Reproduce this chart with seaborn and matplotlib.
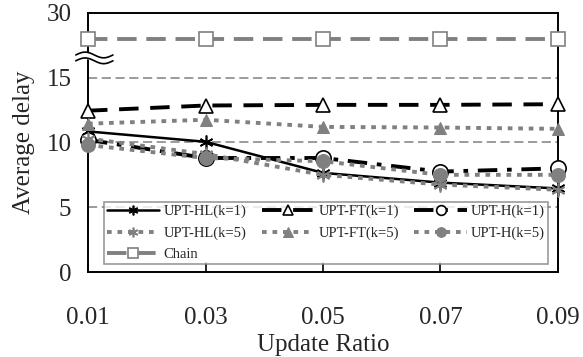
import numpy as np
import pandas as pd
import matplotlib
matplotlib.use("Agg")
import matplotlib.pyplot as plt
import seaborn as sns

# ── data ─────────────────────────────────────────────────────────────────────
update_ratio = [0.01, 0.03, 0.05, 0.07, 0.09]
upt_hl_k1 = [10.85, 10.05, 7.65, 6.9, 6.45]
upt_ft_k1 = [12.45, 12.85, 12.9, 12.9, 12.95]
upt_h_k1 = [10.2, 8.8, 8.8, 7.75, 8.0]
upt_hl_k5 = [10.3, 9.1, 7.5, 6.75, 6.35]
upt_ft_k5 = [11.45, 11.75, 11.2, 11.15, 11.05]
upt_h_k5 = [9.8, 8.8, 8.55, 7.5, 7.5]
chain = [28, 28, 28, 28, 28]

y_ticks = [0, 5, 10, 15, 30]


def broken(v):
    # y axis is cut between 15 and 25
    return v if v <= 15 else v - 10


sns.set_theme(style="white")
plt.rcParams["font.family"] = ["Liberation Serif", "DejaVu Serif"]

fig = plt.figure(figsize=(5.83, 3.57), dpi=100)
ax = fig.add_axes([0.151, 0.238, 0.806, 0.726])

BLACK = "#000000"
GRAY = "#808080"
star = (6, 2, 0)

series = [
    ("UPT-HL(k=1)", upt_hl_k1, dict(color=BLACK, lw=1.8, linestyle="-", marker=star,
                                   ms=10, mec=BLACK, mew=1.2)),
    ("UPT-FT(k=1)", upt_ft_k1, dict(color=BLACK, lw=2.8, linestyle=(0, (5, 3)),
                                   marker="^", ms=10, mfc="white", mec=BLACK, mew=1.2)),
    ("UPT-H(k=1)", upt_h_k1, dict(color=BLACK, lw=2.8, linestyle=(0, (5, 2.5, 1.2, 2.5)),
                                 marker="o", ms=11, mfc="white", mec=BLACK, mew=1.2)),
    ("UPT-HL(k=5)", upt_hl_k5, dict(color=GRAY, lw=2.8, linestyle=(0, (1.2, 1.5)),
                                   marker=star, ms=10, mec=GRAY, mew=1.2)),
    ("UPT-FT(k=5)", upt_ft_k5, dict(color=GRAY, lw=2.8, linestyle=(0, (1.2, 1.5)),
                                   marker="^", ms=9, mfc=GRAY, mec=GRAY)),
    ("UPT-H(k=5)", upt_h_k5, dict(color=GRAY, lw=2.8, linestyle=(0, (1.2, 1.5)),
                                 marker="o", ms=10, mfc=GRAY, mec=GRAY)),
    ("Chain", chain, dict(color=GRAY, lw=2.8, linestyle=(0, (5, 2.5)),
                          marker="s", ms=10, mfc="white", mec=GRAY, mew=1.2)),
]

# dashed grid
for g in [5, 10, 15]:
    ax.axhline(g, color=GRAY, lw=1.1, linestyle=(0, (6, 3)), zorder=1)

handles = {}
for name, vals, kw in series:
    df = pd.DataFrame({"x": update_ratio, "y": [broken(v) for v in vals]})
    sns.lineplot(data=df, x="x", y="y", ax=ax, label=name, clip_on=False,
                 zorder=3, **kw)
    handles[name] = ax.get_lines()[-1]

ax.set_xlim(0.01, 0.09)
ax.set_ylim(0, 20)
ax.set_xticks(update_ratio)
ax.set_xticklabels([f"{v:.2f}" for v in update_ratio])
ax.set_yticks([broken(v) for v in y_ticks])
ax.set_yticklabels([str(v) for v in y_ticks])
ax.tick_params(axis="x", direction="in", length=7, width=1.2, color=BLACK,
               labelsize=18, pad=25, bottom=True)
ax.tick_params(axis="y", length=0, labelsize=18, pad=12)
for s in ax.spines.values():
    s.set_color(BLACK)
    s.set_linewidth(1.4)

ax.set_xlabel("Update Ratio", fontsize=18, labelpad=4)
ax.set_ylabel("Average delay", fontsize=18, labelpad=8)

# axis break mark
t = np.linspace(-0.026, 0.053, 60)
wave = 0.22 * np.sin((t + 0.026) / 0.079 * 2 * np.pi)
tr = matplotlib.transforms.blended_transform_factory(ax.transAxes, ax.transData)
ax.fill_between(t, 16.3 + wave, 16.75 + wave, color="white", transform=tr,
                clip_on=False, zorder=5)
ax.plot(t, 16.75 + wave, color=BLACK, lw=1.2, transform=tr, clip_on=False, zorder=6)
ax.plot(t, 16.3 + wave, color=BLACK, lw=1.2, transform=tr, clip_on=False, zorder=6)

order = ["UPT-HL(k=1)", "UPT-HL(k=5)", "Chain", "UPT-FT(k=1)", "UPT-FT(k=5)",
         "UPT-H(k=1)", "UPT-H(k=5)"]
leg = ax.legend([handles[n] for n in order], order, ncol=3,
                loc="lower left", bbox_to_anchor=(0.034, 0.031, 0.945, 0.255),
                mode="expand", fontsize=10.5, frameon=True, fancybox=False,
                handlelength=3.6, handletextpad=0.3, columnspacing=0.8,
                labelspacing=0.55, borderpad=0.2, borderaxespad=0)
leg.get_frame().set_edgecolor(GRAY)
leg.get_frame().set_linewidth(1.2)
for h in leg.legend_handles:
    h.set_markersize(7)
leg.set_zorder(10)

fig.savefig("out.png", dpi=100)
